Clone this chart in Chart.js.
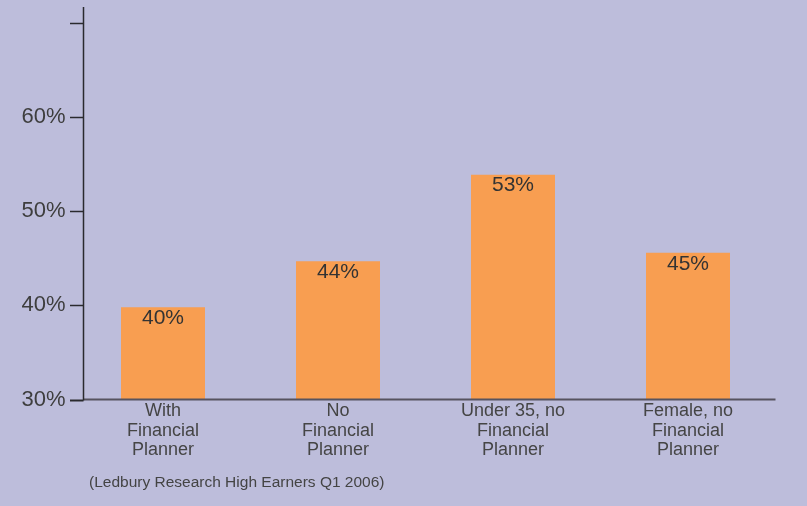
<!DOCTYPE html>
<html>
<head>
<meta charset="utf-8">
<script src="https://cdn.jsdelivr.net/npm/chart.js@4.4.1/dist/chart.umd.min.js"></script>
<style>
  html, body { margin: 0; padding: 0; background: #bdbddb; }
  #wrap { width: 807px; height: 506px; }
</style>
</head>
<body>
<div id="wrap"><canvas id="barChart" width="807" height="506"></canvas></div>
<script>
const categories = [
    ['With', 'Financial', 'Planner'],
    ['No', 'Financial', 'Planner'],
    ['Under 35, no', 'Financial', 'Planner'],
    ['Female, no', 'Financial', 'Planner']
];
const values = [39.8, 44.7, 53.9, 45.6];
const valueLabels = ['40%', '44%', '53%', '45%'];
const yTicks = [30, 40, 50, 60, 70];
const source = '(Ledbury Research High Earners Q1 2006)';

const FONT = '"Liberation Sans", Arial, Helvetica, sans-serif';
const BG = '#bdbddb';

const axesPlugin = {
    id: 'axes_and_labels',
    beforeDraw: (chart) => {
        const ctx = chart.ctx;
        ctx.save();
        ctx.fillStyle = BG;
        ctx.fillRect(0, 0, chart.width, chart.height);
        ctx.restore();
    },
    afterDatasetsDraw: (chart) => {
        const ctx = chart.ctx;
        const y = chart.scales.y;
        const area = chart.chartArea;
        const axisX = 83.5;
        ctx.save();

        // x axis
        ctx.strokeStyle = '#56535f';
        ctx.lineWidth = 2;
        ctx.beginPath();
        ctx.moveTo(axisX, area.bottom);
        ctx.lineTo(area.right, area.bottom);
        ctx.stroke();

        // y axis + tick marks
        ctx.strokeStyle = '#2a2a2e';
        ctx.lineWidth = 1.5;
        ctx.beginPath();
        ctx.moveTo(axisX, 7);
        ctx.lineTo(axisX, area.bottom + 1);
        ctx.stroke();
        yTicks.forEach(v => {
            const py = Math.round(y.getPixelForValue(v)) + 0.5;
            ctx.lineWidth = v === 30 ? 2 : 1.5;
            ctx.beginPath();
            ctx.moveTo(70, py);
            ctx.lineTo(axisX, py);
            ctx.stroke();
        });

        // value labels inside bars
        const meta = chart.getDatasetMeta(0);
        ctx.fillStyle = '#333333';
        ctx.font = '21px ' + FONT;
        ctx.textAlign = 'center';
        ctx.textBaseline = 'middle';
        meta.data.forEach((bar, i) => {
            ctx.fillText(valueLabels[i], bar.x, bar.y + 11);
        });

        // source note
        ctx.fillStyle = '#444444';
        ctx.font = '15.5px ' + FONT;
        ctx.textAlign = 'left';
        ctx.fillText(source, 89, 483);
        ctx.restore();
    }
};

const ctx = document.getElementById('barChart').getContext('2d');
const barChart = new Chart(ctx, {
    type: 'bar',
    data: {
        labels: categories,
        datasets: [{
            data: values,
            backgroundColor: '#f89e51',
            borderWidth: 0,
            barPercentage: 0.48,
            categoryPercentage: 1
        }]
    },
    options: {
        responsive: false,
        animation: false,
        layout: {
            padding: { top: 22, right: 31.5, left: 0, bottom: 0 }
        },
        plugins: {
            legend: { display: false },
            tooltip: { enabled: false }
        },
        scales: {
            x: {
                grid: { display: false, drawTicks: false },
                border: { display: false },
                ticks: {
                    color: '#454545',
                    font: { family: FONT, size: 18, lineHeight: 1.08 },
                    padding: 2,
                    maxRotation: 0,
                    autoSkip: false
                },
                afterFit: (scale) => { scale.height = 106.5; }
            },
            y: {
                min: 30,
                max: 70,
                grid: { display: false, drawTicks: false },
                border: { display: false },
                ticks: {
                    stepSize: 10,
                    color: '#3e3e3e',
                    padding: 10,
                    font: { family: FONT, size: 22 },
                    callback: (v) => v === 70 ? '' : v + '%'
                },
                afterFit: (scale) => { scale.width = 75.5; }
            }
        }
    },
    plugins: [axesPlugin]
});
</script>
</body>
</html>
